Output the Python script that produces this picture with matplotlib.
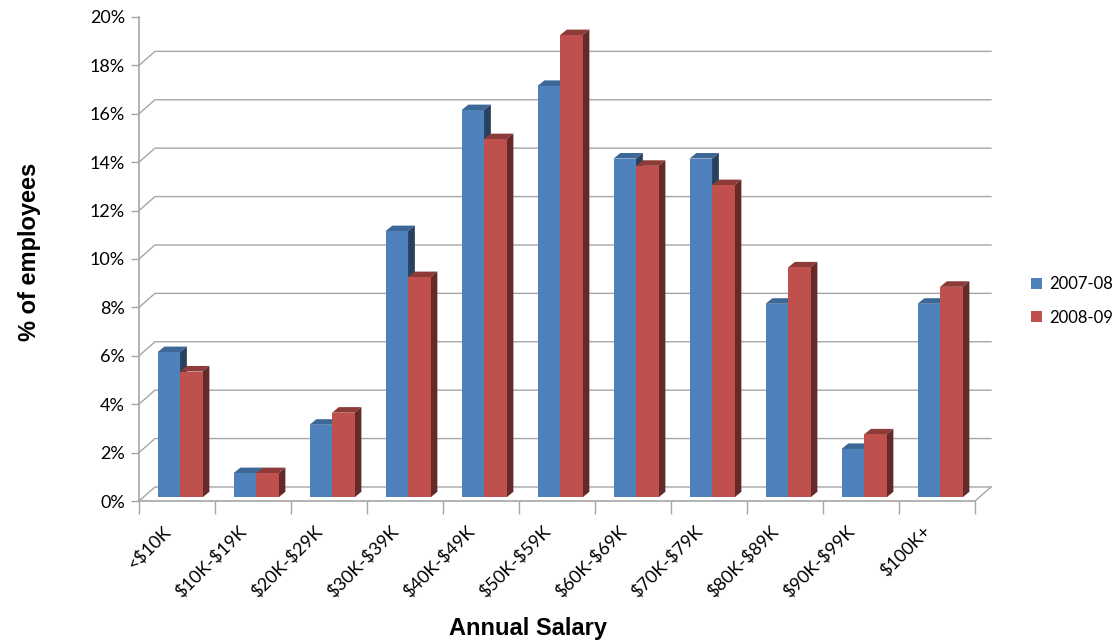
import matplotlib.pyplot as plt
import numpy as np
from matplotlib.patches import Polygon, Patch

plt.rcParams['text.parse_math'] = False  # labels contain plain dollar signs

# data
categories = ['<$10K', '$10K-$19K', '$20K-$29K', '$30K-$39K', '$40K-$49K', '$50K-$59K',
              '$60K-$69K', '$70K-$79K', '$80K-$89K', '$90K-$99K', '$100K+']
pct_0708 = [6, 1, 3, 11, 16, 17, 14, 14, 8, 2, 8]
pct_0809 = [5.2, 1.0, 3.5, 9.1, 14.8, 19.1, 13.7, 12.9, 9.5, 2.6, 8.7]
series_names = ['2007-08', '2008-09']
y_ticks = np.arange(0, 21, 2)

# excel-ish colours: front, top, side
blue = ('#4f81bd', '#3d6796', '#27415f')
red = ('#c0504d', '#8c3b39', '#632a28')
grid_col = '#a6a6a6'
font = 'Lato'

# fake 3d geometry (data units)
wall_dx, wall_dy = 0.21, 0.58     # depth of the back wall
bar_fx, bar_fy = 0.04, 0.15       # bars sit a little behind the front edge
bar_dx, bar_dy = 0.09, 0.23       # depth of each bar
bar_w = 0.296

fig = plt.figure(figsize=(11.17, 6.43), dpi=100)
fig.set_facecolor('white')
ax = fig.add_axes([139 / 1117, 1 - 501 / 643, (975 - 139) / 1117, (501 - 17) / 643])
n = len(categories)
ax.set_xlim(-0.5, n - 0.5)
ax.set_ylim(0, 20)

# back wall gridlines + diagonals from the front axis
for t in y_ticks[:-1]:
    ax.plot([-0.5, -0.5 + wall_dx, n - 0.5 + wall_dx], [t, t + wall_dy, t + wall_dy],
            color=grid_col, lw=1, clip_on=False, zorder=1)
# right edge of the floor
ax.plot([n - 0.5, n - 0.5 + wall_dx], [0, wall_dy], color=grid_col, lw=1,
        clip_on=False, zorder=1)


def draw_bar(x0, h, cols):
    y0 = bar_fy
    front, top, side = cols
    ax.add_patch(Polygon([(x0, y0 + h), (x0 + bar_w, y0 + h),
                          (x0 + bar_w + bar_dx, y0 + h + bar_dy), (x0 + bar_dx, y0 + h + bar_dy)],
                         closed=True, fc=top, ec='none', zorder=3, clip_on=False))
    ax.add_patch(Polygon([(x0 + bar_w, y0), (x0 + bar_w + bar_dx, y0 + bar_dy),
                          (x0 + bar_w + bar_dx, y0 + h + bar_dy), (x0 + bar_w, y0 + h)],
                         closed=True, fc=side, ec='none', zorder=3, clip_on=False))
    ax.add_patch(Polygon([(x0, y0), (x0 + bar_w, y0), (x0 + bar_w, y0 + h), (x0, y0 + h)],
                         closed=True, fc=front, ec='none', zorder=3, clip_on=False))


for i in range(n):
    left = i - bar_w + bar_fx
    draw_bar(left, pct_0708[i], blue)
    draw_bar(left + bar_w, pct_0809[i], red)

# front axes
for s in ['top', 'right']:
    ax.spines[s].set_visible(False)
for s in ['left', 'bottom']:
    ax.spines[s].set_color(grid_col)
    ax.spines[s].set_linewidth(1.2)
    ax.spines[s].set_zorder(2)

ax.set_yticks(y_ticks)
ax.set_yticklabels([f'{t}%' for t in y_ticks], fontsize=13, family=font)
ax.tick_params(axis='y', length=6, width=1, color=grid_col, pad=4)

ax.set_xticks(np.arange(n) - 0.12)
ax.set_xticklabels(categories, fontsize=13, family=font)
ax.set_xticks(np.arange(n + 1) - 0.5, minor=True)
ax.tick_params(axis='x', which='major', length=0, pad=20)
ax.tick_params(axis='x', which='minor', length=9, width=1, color=grid_col)
plt.setp(ax.get_xticklabels(), rotation=45, ha='right', va='center', rotation_mode='anchor')
ax.set_facecolor('none')

# titles
fig.text(30 / 1117, 1 - 252 / 643, '% of employees', rotation=90, ha='center', va='center',
         fontsize=17, fontweight='bold', family='Liberation Sans')
fig.text(528 / 1117, 1 - 628 / 643, 'Annual Salary', ha='center', va='center',
         fontsize=17, fontweight='bold', family='Liberation Sans')

# legend
handles = [Patch(fc=blue[0]), Patch(fc=red[0])]
fig.legend(handles, series_names, loc='center left', bbox_to_anchor=(1016 / 1117, 1 - 301 / 643),
           frameon=False, handlelength=0.65, handleheight=0.65, handletextpad=0.45,
           labelspacing=1.05, prop={'family': font, 'size': 12})

fig.savefig('out.png', dpi=100)
